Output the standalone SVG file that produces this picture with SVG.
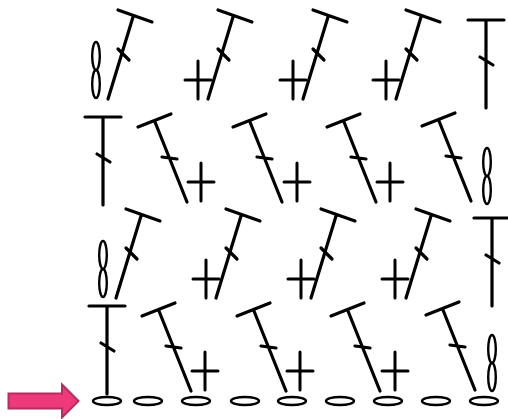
<svg xmlns="http://www.w3.org/2000/svg" width="508" height="419" viewBox="0 0 508 419">
<style>
.s{stroke:#000;stroke-width:3.2;stroke-linecap:round;fill:none}
.p{stroke:#000;stroke-width:3;stroke-linecap:round;fill:none}
.o{stroke:#000;stroke-width:2.4;fill:none}
.a{fill:#EE3A7A;stroke:#B52C62;stroke-width:2}
</style>
<defs>
<g id="dcL"><path class="s" d="M0 0L-32 -80M-49 -75L-16 -88M-25 -45L-10 -43"/></g>
<g id="dcR"><path class="s" d="M0 0L25 -82M10 -89L44 -77M10 -50L21 -39"/></g>
<g id="dcT"><path class="s" d="M0 0V88M-18 0H18M-6 37L7 45"/></g>
<g id="sc"><path class="p" d="M0 -19V19M-13 0H13"/></g>
<g id="ch2"><ellipse class="o" cx="0" cy="-14" rx="3.800" ry="14"/><ellipse class="o" cx="0" cy="14" rx="3.800" ry="14"/></g>
<g id="ch"><ellipse class="o" cx="0" cy="0" rx="14" ry="4"/></g>
</defs>
<rect width="508" height="419" fill="#fff"/>
<g id="row4">
<use href="#ch2" x="96" y="70"/>
<use href="#dcR" x="108" y="99"/>
<use href="#sc" x="198" y="80"/>
<use href="#dcR" x="208" y="99"/>
<use href="#sc" x="293" y="80"/>
<use href="#dcR" x="303" y="99"/>
<use href="#sc" x="386" y="80"/>
<use href="#dcR" x="396" y="99"/>
<use href="#dcT" x="486" y="20"/>
</g>
<g id="row3">
<use href="#dcT" x="103" y="117"/>
<use href="#dcL" x="187" y="202"/>
<use href="#sc" x="201" y="182"/>
<use href="#dcL" x="282" y="202"/>
<use href="#sc" x="297" y="182"/>
<use href="#dcL" x="376" y="202"/>
<use href="#sc" x="390" y="182"/>
<use href="#dcL" x="471" y="201"/>
<use href="#ch2" x="487" y="176"/>
</g>
<g id="row2">
<use href="#ch2" x="103" y="269"/>
<use href="#dcR" x="116" y="298"/>
<use href="#sc" x="206" y="279"/>
<use href="#dcR" x="216" y="298"/>
<use href="#sc" x="301" y="279"/>
<use href="#dcR" x="311" y="298"/>
<use href="#sc" x="395" y="279"/>
<use href="#dcR" x="406" y="298"/>
<use href="#dcT" x="492" y="218"/>
</g>
<g id="row1">
<use href="#dcT" x="107" y="306"/>
<use href="#dcL" x="191" y="391"/>
<use href="#sc" x="205" y="371"/>
<use href="#dcL" x="286" y="391"/>
<use href="#sc" x="300" y="371"/>
<use href="#dcL" x="380" y="391"/>
<use href="#sc" x="395" y="371"/>
<use href="#dcL" x="475" y="390"/>
<use href="#ch2" x="492" y="363"/>
</g>
<g id="chain">
<use href="#ch" x="107" y="401"/>
<use href="#ch" x="148" y="401"/>
<use href="#ch" x="196" y="401"/>
<use href="#ch" x="245" y="401"/>
<use href="#ch" x="292" y="401"/>
<use href="#ch" x="340" y="401"/>
<use href="#ch" x="388" y="401"/>
<use href="#ch" x="436" y="401"/>
<use href="#ch" x="484" y="401"/>
</g>
<g id="start-arrow"><path class="a" d="M8.500 393.500H62V384.500L78.500 401L62 417.500V408.500H8.500Z"/></g>
</svg>
